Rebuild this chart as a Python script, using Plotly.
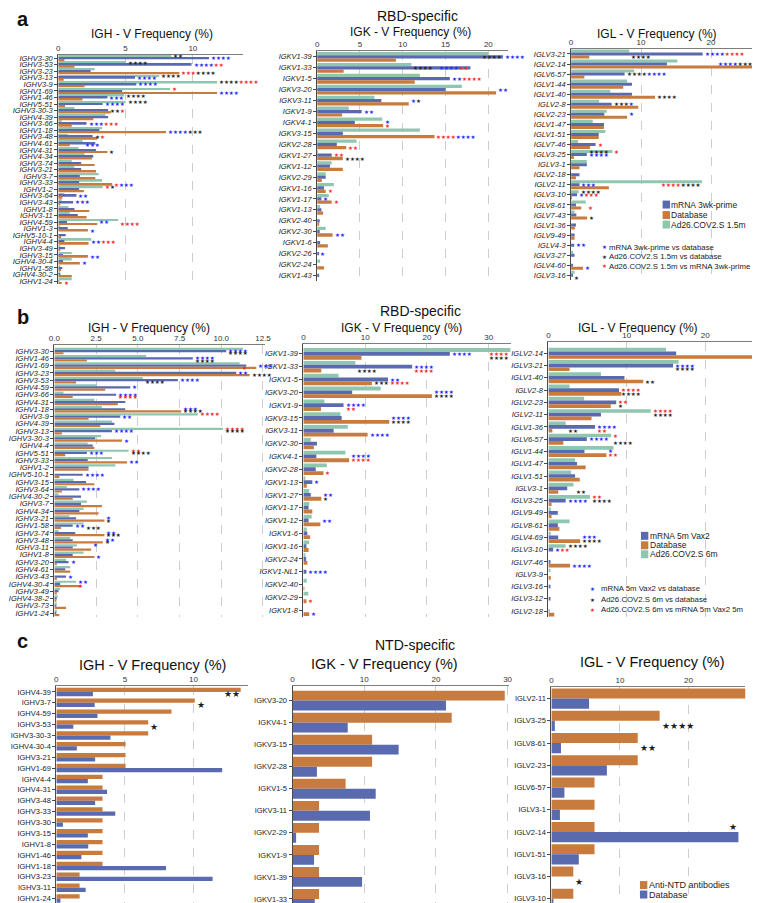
import re
import plotly.graph_objects as go

W, H = 760, 903
FONT = "Liberation Sans, Arial, Helvetica, sans-serif"
STAR_FONT = "DejaVu Sans"
GREEN = "#8fc6af"
BLUE = "#5a6aae"
ORANGE = "#c87b3e"
STAR_COL = {"b": "#2323ff", "k": "#1e1e1e", "r": "#ee2a2a"}

# ---------------- Panel a (RBD-specific, mRNA 3wk-prime / Database / Ad26 1.5m) -------------
a_igh_genes = ["IGHV3-30", "IGHV3-53", "IGHV3-23", "IGHV3-13", "IGHV3-9", "IGHV1-69", "IGHV1-46",
               "IGHV5-51", "IGHV3-30-3", "IGHV4-39", "IGHV3-66", "IGHV1-18", "IGHV3-48", "IGHV4-61",
               "IGHV4-31", "IGHV4-34", "IGHV3-74", "IGHV3-21", "IGHV3-7", "IGHV3-33", "IGHV1-2",
               "IGHV3-64", "IGHV3-43", "IGHV1-8", "IGHV3-11", "IGHV4-59", "IGHV1-3", "IGHV5-10-1",
               "IGHV4-4", "IGHV3-49", "IGHV3-15", "IGHV4-30-4", "IGHV1-58", "IGHV4-30-2", "IGHV1-24"]
a_igh_ad26 = [8.4, 5.0, 2.7, 7.5, 11.8, 8.3, 4.9, 5.0, 1.2, 3.5, 0.25, 3.25, 0.7, 1.8, 1.5, 1.95, 1.0,
              1.2, 3.0, 3.25, 3.3, 0.45, 0.25, 0.75, 0.85, 4.45, 0.1, 0.0, 2.45, 0.1, 1.0, 1.0, 0.1, 0.1, 1.0]
a_igh_mrna = [11.2, 9.9, 2.4, 5.7, 5.8, 4.75, 3.65, 3.3, 3.7, 3.7, 2.1, 3.05, 2.55, 2.75, 2.8, 2.6, 1.7,
              1.7, 1.6, 1.55, 1.55, 1.35, 1.1, 1.2, 1.45, 0.65, 0.7, 0.55, 0.45, 0.5, 0.35, 0.35, 0.3, 0.1, 0.05]
a_igh_db = [0.45, 1.2, 9.0, 0.4, 1.95, 11.8, 1.8, 0.5, 3.9, 2.6, 1.0, 8.0, 2.9, 0.85, 3.65, 2.5, 2.7,
            2.8, 2.75, 4.0, 1.9, 0.3, 0.1, 2.3, 2.1, 2.9, 2.2, 0.2, 2.25, 0.1, 2.2, 1.6, 0.2, 1.0, 0.25]
a_igh_stars = [
    ("IGHV3-30", "G", "G", "k**"), ("IGHV3-30", "B", "B", "b****"),
    ("IGHV3-53", "G", "G", "k****"), ("IGHV3-53", "B", "B", "b****r**"),
    ("IGHV3-23", "O", "O", "r***k****"),
    ("IGHV3-13", "G", "G", "k****"), ("IGHV3-13", "B", "B", "b****"),
    ("IGHV3-9", "G", "G", "k****r****"), ("IGHV3-9", "B", "B", "b****"),
    ("IGHV1-69", "G", "G", "r*"), ("IGHV1-69", "O", "O", "b****"),
    ("IGHV1-46", "B", "B", "b***"), ("IGHV1-46", "G", "G", "k****"),
    ("IGHV5-51", "B", "B", "b****"), ("IGHV5-51", "G", "G", "k****"),
    ("IGHV3-30-3", "B", "B", "k**r*"),
    ("IGHV3-66", "B", "B", "b***r***"),
    ("IGHV1-18", "O", "O", "b****k***"),
    ("IGHV3-48", "B", "B", "k*r*"),
    ("IGHV4-61", "G", "O", "b***"),
    ("IGHV4-31", "O", "O", "k*"),
    ("IGHV3-33", "O", "O", "r*b***"),
    ("IGHV1-2", "G", "G", "r*k*"),
    ("IGHV3-64", "B", "B", "b**"),
    ("IGHV3-43", "B", "B", "b***"),
    ("IGHV4-59", "O", "B", "b**"), ("IGHV4-59", "G", "O", "r****"),
    ("IGHV1-3", "O", "O", "b*"),
    ("IGHV4-4", "O", "B", "b**r***"),
    ("IGHV3-15", "O", "O", "b**"),
    ("IGHV4-30-4", "O", "O", "b*"),
    ("IGHV1-24", "O", "O", "r*"),
]

a_igk_genes = ["IGKV1-39", "IGKV1-33", "IGKV1-5", "IGKV3-20", "IGKV3-11", "IGKV1-9", "IGKV4-1",
               "IGKV3-15", "IGKV2-28", "IGKV1-27", "IGKV1-12", "IGKV2-29", "IGKV1-16", "IGKV1-17",
               "IGKV1-13", "IGKV2-40", "IGKV2-30", "IGKV1-6", "IGKV2-26", "IGKV2-24", "IGKV1-43"]
a_igk_ad26 = [20.0, 11.0, 12.0, 16.9, 6.7, 3.7, 7.6, 12.0, 4.6, 0.1, 1.7, 1.0, 1.95, 1.35, 0.35, 0.0,
              1.0, 0.0, 0.0, 0.35, 0.0]
a_igk_mrna = [21.7, 17.9, 15.5, 15.0, 7.5, 5.2, 4.4, 3.0, 2.3, 1.7, 1.5, 1.0, 0.8, 0.5, 0.5, 0.3, 0.3,
              0.35, 0.15, 0.0, 0.15]
a_igk_db = [9.2, 3.1, 11.4, 20.9, 10.7, 2.9, 7.7, 13.7, 3.4, 3.0, 3.0, 0.55, 1.0, 1.7, 0.7, 0.15, 1.8,
            1.25, 0.0, 0.8, 0.0]
a_igk_stars = [
    ("IGKV1-39", "B", "B", "k****", "in"), ("IGKV1-39", "B", "B", "b****"),
    ("IGKV1-33", "G", "B", "k****"), ("IGKV1-33", "B", "B", "b****r**", "in"),
    ("IGKV1-5", "B", "B", "b**r****"),
    ("IGKV3-20", "O", "B", "b**"),
    ("IGKV3-11", "O", "B", "b*k*"),
    ("IGKV1-9", "B", "B", "b**"),
    ("IGKV4-1", "O", "B", "b*"), ("IGKV4-1", "O", "O", "r*"),
    ("IGKV3-15", "O", "O", "r****b****"),
    ("IGKV2-28", "O", "O", "r**"),
    ("IGKV1-27", "B", "B", "r**"), ("IGKV1-27", "O", "O", "k****"),
    ("IGKV1-16", "O", "O", "r*"),
    ("IGKV1-17", "B", "B", "b*"), ("IGKV1-17", "O", "O", "r*"),
    ("IGKV2-30", "O", "O", "b**"),
    ("IGKV2-26", "B", "B", "b*"),
]

a_igl_genes = ["IGLV3-21", "IGLV2-14", "IGLV6-57", "IGLV1-44", "IGLV1-40", "IGLV2-8", "IGLV2-23",
               "IGLV1-47", "IGLV1-51", "IGLV7-46", "IGLV3-25", "IGLV3-1", "IGLV2-18", "IGLV2-11",
               "IGLV3-10", "IGLV8-61", "IGLV7-43", "IGLV1-36", "IGLV9-49", "IGLV4-3", "IGLV3-27",
               "IGLV4-60", "IGLV3-16"]
a_igl_ad26 = [8.3, 15.2, 9.0, 8.0, 5.6, 4.0, 5.1, 3.1, 4.9, 1.0, 5.9, 2.25, 0.0, 18.7, 1.1, 2.1, 0.5,
              0.0, 0.0, 0.0, 0.25, 0.0, 0.5]
a_igl_mrna = [18.8, 13.7, 7.65, 8.7, 8.7, 5.8, 4.75, 4.7, 3.95, 3.5, 2.25, 2.25, 1.2, 1.2, 0.85, 0.7,
              0.75, 0.7, 0.5, 0.45, 0.5, 0.25, 0.15]
a_igl_db = [2.6, 26.8, 1.9, 7.45, 12.0, 9.6, 8.0, 4.7, 3.95, 2.7, 0.4, 1.2, 0.7, 5.4, 0.1, 1.45, 2.3,
            0.55, 0.5, 0.0, 0.0, 1.7, 0.0]
a_igl_stars = [
    ("IGLV3-21", "B", "B", "b****r****"), ("IGLV3-21", "G", "O", "k****"),
    ("IGLV2-14", "O", "B", "b****k****", "in"),
    ("IGLV6-57", "B", "B", "k****b****"),
    ("IGLV1-40", "O", "O", "k****"),
    ("IGLV2-8", "B", "B", "k***b*"),
    ("IGLV2-23", "O", "B", "b*"),
    ("IGLV7-46", "B", "B", "r*"),
    ("IGLV3-25", "B", "B", "b****"), ("IGLV3-25", "B", "G", "k****"), ("IGLV3-25", "G", "G", "r*"),
    ("IGLV2-11", "B", "B", "b***"), ("IGLV2-11", "G", "B", "r****k****", "in"),
    ("IGLV3-10", "G", "G", "k****"), ("IGLV3-10", "B", "B", "b*r***"),
    ("IGLV8-61", "G", "O", "r*"),
    ("IGLV7-43", "O", "O", "k*"),
    ("IGLV4-3", "B", "B", "b**"),
    ("IGLV4-60", "O", "O", "b*"),
    ("IGLV3-16", "B", "O", "k*"),
]

# ---------------- Panel b (RBD-specific, mRNA 5m Vax2 / Database / Ad26 6m) -------------
b_igh_genes = ["IGHV3-30", "IGHV1-46", "IGHV1-69", "IGHV3-23", "IGHV3-53", "IGHV4-59", "IGHV3-66",
               "IGHV4-31", "IGHV1-18", "IGHV3-9", "IGHV4-39", "IGHV3-13", "IGHV3-30-3", "IGHV4-4",
               "IGHV5-51", "IGHV3-33", "IGHV1-2", "IGHV5-10-1", "IGHV3-15", "IGHV3-64", "IGHV4-30-2",
               "IGHV3-7", "IGHV4-34", "IGHV3-21", "IGHV1-58", "IGHV3-74", "IGHV3-48", "IGHV3-11",
               "IGHV1-8", "IGHV3-20", "IGHV4-61", "IGHV3-43", "IGHV4-30-4", "IGHV3-49", "IGHV4-38-2",
               "IGHV3-73", "IGHV1-24"]
b_igh_ad26 = [11.3, 5.5, 11.1, 3.65, 5.3, 2.55, 0.55, 2.4, 2.85, 8.6, 3.45, 10.1, 2.8, 2.0, 4.45, 3.45,
              3.65, 0.0, 1.15, 0.75, 0.25, 1.95, 1.75, 0.9, 1.75, 0.25, 0.95, 1.35, 1.75, 0.7, 0.95, 0.0,
              1.3, 0.35, 0.2, 0.15, 0.15]
b_igh_mrna = [10.3, 8.3, 11.5, 10.9, 7.4, 4.55, 3.7, 4.25, 4.25, 3.95, 3.6, 3.45, 2.45, 2.3, 1.95, 2.0,
              2.05, 1.7, 1.9, 1.5, 1.6, 1.6, 1.5, 1.3, 1.1, 1.25, 1.1, 1.1, 1.1, 0.85, 0.65, 0.7, 0.35,
              0.25, 0.15, 0.1, 0.1]
b_igh_db = [0.55, 1.95, 12.1, 11.7, 1.3, 3.05, 1.1, 3.8, 7.6, 2.05, 2.75, 0.45, 4.05, 2.4, 0.65, 4.35,
            2.05, 0.3, 2.4, 0.45, 1.1, 2.85, 2.65, 3.0, 0.4, 3.0, 2.9, 2.2, 2.4, 0.15, 0.95, 0.15, 1.6,
            0.15, 0.1, 0.7, 0.3]
b_igh_stars = [
    ("IGHV3-30", "B", "B", "b****"), ("IGHV3-30", "B", "O", "k****"),
    ("IGHV1-46", "B", "B", "b****"), ("IGHV1-46", "B", "O", "k****"),
    ("IGHV1-69", "O", "B", "b***"), ("IGHV1-69", "G", "O", "r*"),
    ("IGHV3-23", "B", "B", "b**"), ("IGHV3-23", "O", "O", "k****"),
    ("IGHV3-53", "G", "O", "k****"), ("IGHV3-53", "B", "B", "b****"),
    ("IGHV4-59", "B", "B", "b*"),
    ("IGHV3-66", "B", "B", "b****"), ("IGHV3-66", "B", "O", "r****"),
    ("IGHV1-18", "O", "B", "b***"), ("IGHV1-18", "O", "O", "k****"),
    ("IGHV3-9", "B", "B", "b**"), ("IGHV3-9", "G", "G", "r****"),
    ("IGHV3-13", "B", "B", "b****"), ("IGHV3-13", "G", "G", "r****"), ("IGHV3-13", "G", "B", "k****"),
    ("IGHV3-30-3", "O", "O", "b*"),
    ("IGHV5-51", "G", "G", "r**"), ("IGHV5-51", "G", "B", "k****"), ("IGHV5-51", "B", "B", "b***"),
    ("IGHV3-33", "O", "O", "b**"),
    ("IGHV5-10-1", "B", "B", "b****"),
    ("IGHV3-64", "B", "B", "b****"),
    ("IGHV3-21", "O", "B", "b*"), ("IGHV3-21", "O", "O", "k*"),
    ("IGHV1-58", "B", "B", "b**"), ("IGHV1-58", "G", "O", "k***"),
    ("IGHV3-74", "O", "B", "b**"), ("IGHV3-74", "O", "O", "k***"),
    ("IGHV3-48", "O", "B", "b**"), ("IGHV3-48", "O", "O", "k*"),
    ("IGHV3-11", "O", "G", "b*"),
    ("IGHV1-8", "O", "O", "b*"),
    ("IGHV3-20", "B", "B", "b*"),
    ("IGHV3-43", "B", "B", "b*"),
    ("IGHV4-30-4", "G", "G", "b**"), ("IGHV4-30-4", "G", "O", "r*"),
]

b_igk_genes = ["IGKV1-39", "IGKV1-33", "IGKV1-5", "IGKV3-20", "IGKV1-9", "IGKV3-15", "IGKV3-11",
               "IGKV2-30", "IGKV4-1", "IGKV2-28", "IGKV1-13", "IGKV1-27", "IGKV1-17", "IGKV1-12",
               "IGKV1-6", "IGKV1-16", "IGKV2-24", "IGKV1-NL1", "IGKV2-40", "IGKV2-29", "IGKV1-8"]
b_igk_ad26 = [33.5, 8.4, 5.7, 12.5, 3.4, 6.0, 7.2, 1.2, 6.8, 3.8, 0.3, 0.95, 0.95, 1.35, 0.55, 0.95,
              0.3, 0.0, 0.55, 0.8, 0.0]
b_igk_mrna = [23.7, 17.6, 13.7, 7.9, 6.5, 6.2, 4.9, 2.2, 2.1, 2.0, 1.45, 1.2, 0.85, 0.85, 0.65, 0.5,
              0.45, 0.5, 0.0, 0.0, 0.0]
b_igk_db = [9.4, 2.9, 11.1, 20.8, 2.85, 13.9, 10.4, 1.7, 7.4, 3.25, 0.55, 2.9, 1.45, 2.75, 1.1, 0.85,
            0.65, 0.0, 0.1, 0.5, 0.95]
b_igk_stars = [
    ("IGKV1-39", "B", "B", "b****"), ("IGKV1-39", "G", "B", "r****", "in"),
    ("IGKV1-39", "G", "O", "k****", "in"),
    ("IGKV1-33", "B", "B", "b****"), ("IGKV1-33", "B", "O", "r****"), ("IGKV1-33", "G", "O", "k****"),
    ("IGKV1-5", "B", "B", "b**"), ("IGKV1-5", "B", "O", "r****"), ("IGKV1-5", "O", "O", "k***"),
    ("IGKV3-20", "O", "B", "b****"), ("IGKV3-20", "O", "O", "k****"),
    ("IGKV1-9", "B", "B", "b****"), ("IGKV1-9", "B", "O", "r**"),
    ("IGKV3-15", "O", "B", "b****"), ("IGKV3-15", "O", "O", "k****"),
    ("IGKV3-11", "O", "O", "b****"),
    ("IGKV4-1", "O", "B", "b****"), ("IGKV4-1", "O", "O", "r****"),
    ("IGKV2-28", "O", "O", "r*"),
    ("IGKV1-13", "B", "B", "b*"),
    ("IGKV1-27", "O", "B", "b**"), ("IGKV1-27", "O", "O", "k*"),
    ("IGKV1-12", "O", "B", "b**"),
    ("IGKV1-NL1", "B", "B", "b****"),
    ("IGKV2-29", "O", "O", "r*"),
    ("IGKV1-8", "O", "O", "b*"),
]

b_igl_genes = ["IGLV2-14", "IGLV3-21", "IGLV1-40", "IGLV2-8", "IGLV2-23", "IGLV2-11", "IGLV1-36",
               "IGLV6-57", "IGLV1-44", "IGLV1-47", "IGLV1-51", "IGLV3-1", "IGLV3-25", "IGLV9-49",
               "IGLV8-61", "IGLV4-69", "IGLV3-10", "IGLV7-46", "IGLV3-9", "IGLV3-16", "IGLV3-12",
               "IGLV2-18"]
b_igl_ad26 = [15.0, 16.6, 6.7, 2.7, 4.55, 13.05, 2.2, 8.0, 8.3, 3.4, 2.9, 3.2, 5.3, 0.3, 2.7, 0.3, 2.2,
              0.0, 0.2, 0.0, 0.0, 0.0]
b_igl_mrna = [16.3, 15.9, 9.7, 9.0, 8.65, 6.7, 5.95, 4.9, 4.6, 3.65, 3.4, 2.4, 2.2, 1.2, 1.2, 1.25, 0.6,
              0.15, 0.0, 0.2, 0.15, 0.1]
b_igl_db = [27.0, 2.7, 12.1, 9.3, 7.95, 5.5, 0.5, 1.9, 7.4, 4.75, 4.0, 1.25, 0.4, 0.4, 1.4, 4.05, 0.0,
            2.75, 0.3, 0.0, 0.0, 0.75]
b_igl_stars = [
    ("IGLV3-21", "B", "B", "b****"), ("IGLV3-21", "B", "O", "k****"),
    ("IGLV1-40", "O", "O", "k**"),
    ("IGLV2-8", "B", "B", "r****"), ("IGLV2-8", "B", "O", "k****"),
    ("IGLV2-23", "B", "B", "r**"), ("IGLV2-23", "B", "O", "k*"),
    ("IGLV2-11", "G", "G", "r****"), ("IGLV2-11", "G", "B", "k****"),
    ("IGLV1-36", "B", "B", "b****"), ("IGLV1-36", "B", "O", "r**"), ("IGLV1-36", "G", "O", "k**"),
    ("IGLV6-57", "G", "G", "r*"), ("IGLV6-57", "B", "B", "b****"), ("IGLV6-57", "G", "O", "k****"),
    ("IGLV1-44", "O", "B", "b*"), ("IGLV1-44", "O", "O", "r**"),
    ("IGLV3-1", "G", "O", "k**"),
    ("IGLV3-25", "G", "G", "r**"), ("IGLV3-25", "B", "B", "b****"), ("IGLV3-25", "G", "B", "k****"),
    ("IGLV4-69", "O", "B", "b***"), ("IGLV4-69", "O", "O", "k****"),
    ("IGLV3-10", "G", "G", "k****"), ("IGLV3-10", "B", "B", "b*r**"),
    ("IGLV7-46", "O", "O", "b****"),
]

# ---------------- Panel c (NTD-specific, Anti-NTD antibodies / Database) -------------
c_igh_genes = ["IGHV4-39", "IGHV3-7", "IGHV4-59", "IGHV3-53", "IGHV3-30-3", "IGHV4-30-4", "IGHV3-21",
               "IGHV1-69", "IGHV4-4", "IGHV4-31", "IGHV3-48", "IGHV3-33", "IGHV3-30", "IGHV3-15",
               "IGHV1-8", "IGHV1-46", "IGHV1-18", "IGHV3-23", "IGHV3-11", "IGHV1-24"]
c_igh_ntd = [13.45, 10.1, 8.4, 6.7, 6.7, 5.05, 5.05, 5.05, 3.37, 3.37, 3.37, 3.37, 3.37, 3.37, 3.37,
             3.37, 3.37, 1.7, 1.7, 1.7]
c_igh_db = [2.67, 2.8, 3.0, 1.24, 3.95, 1.5, 2.83, 12.1, 2.3, 3.7, 2.83, 4.3, 0.48, 2.3, 2.33, 1.83,
            8.0, 11.4, 2.14, 0.3]
c_igh_stars = [("IGHV4-39", "O", "B", "k**", "in"), ("IGHV3-7", "O", "B", "k*"),
               ("IGHV3-53", "O", "B", "k*")]

c_igk_genes = ["IGKV3-20", "IGKV4-1", "IGKV3-15", "IGKV2-28", "IGKV1-5", "IGKV3-11", "IGKV2-29",
               "IGKV1-9", "IGKV1-39", "IGKV1-33"]
c_igk_ntd = [29.6, 22.2, 11.1, 11.1, 7.4, 3.7, 3.7, 3.7, 3.7, 3.7]
c_igk_db = [21.4, 7.7, 14.8, 3.4, 11.6, 10.8, 0.5, 3.0, 9.7, 3.1]
c_igk_stars = []

c_igl_genes = ["IGLV2-11", "IGLV3-25", "IGLV8-61", "IGLV2-23", "IGLV6-57", "IGLV3-1", "IGLV2-14",
               "IGLV1-51", "IGLV3-16", "IGLV3-10"]
c_igl_ntd = [28.4, 15.8, 12.6, 12.6, 6.3, 6.3, 6.3, 6.3, 3.2, 3.2]
c_igl_db = [5.5, 0.5, 1.4, 8.1, 1.9, 1.25, 27.3, 4.0, 0.0, 0.15]
c_igl_stars = [("IGLV2-11", "O", "B", "k***", "in"), ("IGLV3-25", "O", "B", "k****"),
               ("IGLV8-61", "O", "B", "k**"), ("IGLV2-14", "B", "O", "k*", "in"),
               ("IGLV3-16", "O", "B", "k*")]


def ser3(ad, mr, db, mr_name, ad_name):
    return [("G", ad_name, ad, GREEN), ("B", mr_name, mr, BLUE), ("O", "Database", db, ORANGE)]


def ser2(ntd, db):
    return [("O", "Anti-NTD antibodies", ntd, ORANGE), ("B", "Database", db, BLUE)]


panels = [
    dict(genes=a_igh_genes, series=ser3(a_igh_ad26, a_igh_mrna, a_igh_db, "mRNA 3wk-prime", "Ad26.COV2.S 1.5m"),
         xpx=(45, 233), ypx=(46, 276), xmax=13.75, tv=[0, 5, 10], tt=None, pad=0.5, italic=True, w=0.3,
         stars=a_igh_stars, ss=5.5, th=15),
    dict(genes=a_igk_genes, series=ser3(a_igk_ad26, a_igk_mrna, a_igk_db, "mRNA 3wk-prime", "Ad26.COV2.S 1.5m"),
         xpx=(308, 502), ypx=(42.5, 272.5), xmax=22.3, tv=[0, 5, 10, 15, 20], tt=None, pad=0.5, italic=True,
         w=0.3, stars=a_igk_stars, ss=5.5, th=15),
    dict(genes=a_igl_genes, series=ser3(a_igl_ad26, a_igl_mrna, a_igl_db, "mRNA 3wk-prime", "Ad26.COV2.S 1.5m"),
         xpx=(566, 758), ypx=(40, 272), xmax=27.0, tv=[0, 10, 20], tt=None, pad=0.5, italic=True, w=0.3,
         stars=a_igl_stars, ss=5.5, th=2),
    dict(genes=b_igh_genes, series=ser3(b_igh_ad26, b_igh_mrna, b_igh_db, "mRNA 5m Vax2", "Ad26.COV2.S 6m"),
         xpx=(41, 255), ypx=(337, 609), xmax=12.62, tv=[0, 2.5, 5, 7.5, 10, 12.5],
         tt=["0.0", "2.5", "5.0", "7.5", "10.0", "12.5"], pad=0.8, italic=True, w=0.3,
         stars=b_igh_stars, ss=5.5, th=15),
    dict(genes=b_igk_genes, series=ser3(b_igk_ad26, b_igk_mrna, b_igk_db, "mRNA 5m Vax2", "Ad26.COV2.S 6m"),
         xpx=(294, 505), ypx=(336, 609), xmax=33.6, tv=[0, 10, 20, 30], tt=None, pad=0.75, italic=True,
         w=0.3, stars=b_igk_stars, ss=5.5, th=15),
    dict(genes=b_igl_genes, series=ser3(b_igl_ad26, b_igl_mrna, b_igl_db, "mRNA 5m Vax2", "Ad26.COV2.S 6m"),
         xpx=(543, 758), ypx=(334, 609.5), xmax=27.0, tv=[0, 10, 20], tt=None, pad=0.9, italic=True, w=0.3,
         stars=b_igl_stars, ss=5.5, th=2),
    dict(genes=c_igh_genes, series=ser2(c_igh_ntd, c_igh_db), xpx=(43, 238), ypx=(679, 897), xmax=14.0,
         tv=[0, 5, 10], tt=None, pad=0.5, italic=False, w=0.39, stars=c_igh_stars, ss=9, th=3),
    dict(genes=c_igk_genes, series=ser2(c_igk_ntd, c_igk_db), xpx=(283, 503), ypx=(679, 903), xmax=30.2,
         tv=[0, 10, 20, 30], tt=None, pad=0.64, italic=False, w=0.45, stars=c_igk_stars, ss=9, th=3),
    dict(genes=c_igl_genes, series=ser2(c_igl_ntd, c_igl_db), xpx=(546, 743), ypx=(680, 903), xmax=28.3,
         tv=[0, 10, 20], tt=None, pad=0.5, italic=False, w=0.45, stars=c_igl_stars, ss=9, th=3),
]


def xp(p):
    return p / W


def yp(p):
    return 1 - p / H


fig = go.Figure()
layout = {}
annotations = []
shapes = []

for i, P in enumerate(panels, start=1):
    sfx = "" if i == 1 else str(i)
    genes = P["genes"]
    n = len(genes)
    m = len(P["series"])
    w = P["w"]
    vals = {}
    centers = {}
    for k, (key, name, v, color) in enumerate(P["series"]):
        vals[key] = dict(zip(genes, v))
        centers[key] = -m * w / 2 + (k + 0.5) * w
        fig.add_trace(go.Bar(
            x=v, y=genes, orientation="h", width=w, offset=-m * w / 2 + k * w,
            marker=dict(color=color, line=dict(width=0)), name=name, showlegend=False,
            xaxis="x" + sfx, yaxis="y" + sfx, hoverinfo="x+y+name"))
    x0, x1 = P["xpx"]
    y0, y1 = P["ypx"]
    layout["xaxis" + sfx] = dict(
        domain=[xp(x0), xp(x1)], range=[0, P["xmax"]], side="top", anchor="y" + sfx,
        showline=True, linecolor="#7d7d7d", linewidth=1, ticks="",
        tickmode="array", tickvals=P["tv"],
        ticktext=P["tt"] if P["tt"] else [str(t) for t in P["tv"]],
        tickfont=dict(size=8, color="#333", family=FONT),
        showgrid=True, gridcolor="#cdcdcd", griddash="dash", gridwidth=1, zeroline=False,
        fixedrange=True)
    layout["yaxis" + sfx] = dict(
        domain=[yp(y1), yp(y0)], type="category", categoryorder="array", categoryarray=genes,
        tickmode="array", tickvals=genes, ticktext=genes,
        range=[n - 0.5, -P["pad"]], anchor="x" + sfx, showline=True, linecolor="#4a4a4a",
        linewidth=1, ticks="outside", ticklen=3, tickcolor="#4a4a4a",
        tickfont=dict(size=7.5, color="#222", family=FONT, style="italic" if P["italic"] else "normal"),
        showgrid=False, zeroline=False, fixedrange=True)
    ppr = (y1 - y0) / (n - 0.5 + P["pad"])
    for st in P["stars"]:
        gene, anchor, row, spec = st[:4]
        align = st[4] if len(st) > 4 else "out"
        segs = re.findall(r"([bkr])(\*+)", spec)
        nst = sum(len(s) for _, s in segs)
        text = "".join(f"<span style='color:{STAR_COL[c]}'>{'★' * len(s)}</span>" for c, s in segs)
        xv = vals[anchor][gene]
        xpix = x0 + xv / P["xmax"] * (x1 - x0)
        width = nst * P["ss"] * 0.84
        right = align == "in" or (xpix + width > x1 + P["th"])
        annotations.append(dict(
            xref="x" + sfx, yref="y" + sfx, x=xv, y=gene, text=text, showarrow=False,
            xanchor="right" if right else "left", yanchor="middle", xshift=0 if right else 1,
            yshift=-centers[row] * ppr, borderpad=0,
            font=dict(size=P["ss"], family=STAR_FONT, color="#222")))


def title(txt, x, y, size, bold=False):
    annotations.append(dict(xref="paper", yref="paper", x=xp(x), y=yp(y), text=f"<b>{txt}</b>" if bold else txt,
                            showarrow=False, xanchor="center", yanchor="middle",
                            font=dict(size=size, family=FONT, color="#111")))


title("a", 9, 10, 20, bold=True)
title("RBD-specific", 410, 7, 14)
title("IGH - V Frequency (%)", 140, 25, 12)
title("IGK - V Frequency (%)", 403, 23, 12)
title("IGL - V Frequency (%)", 653, 25, 12)
title("b", 9, 309, 20, bold=True)
title("RBD-specific", 413, 303, 14)
title("IGH - V Frequency (%)", 137, 320, 12)
title("IGK - V Frequency (%)", 394, 320, 12)
title("IGL - V Frequency (%)", 634, 320, 12)
title("c", 9, 633, 20, bold=True)
title("IGH - V Frequency (%)", 141, 657, 14.5)
title("NTD-specific", 407, 637, 14)
title("IGK - V Frequency (%)", 376, 656, 14.5)
title("IGL - V Frequency (%)", 649, 654, 14.5)


def box_legend(items, sq_x, ys, size):
    for (color, label), y in zip(items, ys):
        shapes.append(dict(type="rect", xref="paper", yref="paper", x0=xp(sq_x), x1=xp(sq_x + 7.5),
                           y0=yp(y + 4), y1=yp(y - 4), fillcolor=color, line=dict(width=0)))
        annotations.append(dict(xref="paper", yref="paper", x=xp(sq_x + 8), y=yp(y), xanchor="left",
                                yanchor="middle", text=label, showarrow=False, borderpad=0,
                                font=dict(size=size, family=FONT, color="#222")))


def star_legend(items, star_x, txt_x, ys, size):
    for (c, label), y in zip(items, ys):
        annotations.append(dict(xref="paper", yref="paper", x=xp(star_x), y=yp(y), xanchor="center",
                                yanchor="middle", text="★", showarrow=False, borderpad=0,
                                font=dict(size=5.5, family=STAR_FONT, color=STAR_COL[c])))
        annotations.append(dict(xref="paper", yref="paper", x=xp(txt_x), y=yp(y), xanchor="left",
                                yanchor="middle", text=label, showarrow=False, borderpad=0,
                                font=dict(size=size, family=FONT, color="#222")))


box_legend([(BLUE, "mRNA 3wk-prime"), (ORANGE, "Database"), (GREEN, "Ad26.COV2.S 1.5m")],
           659, [196, 206.5, 216], 8.5)
star_legend([("b", "mRNA 3wk-prime vs database"), ("k", "Ad26.COV2.S 1.5m vs database"),
             ("r", "Ad26.COV2.S 1.5m vs mRNA 3wk-prime")], 600, 604, [239, 248.5, 258], 7.8)
box_legend([(BLUE, "mRNA 5m Vax2"), (ORANGE, "Database"), (GREEN, "Ad26.COV2.S 6m")],
           637, [528, 537.5, 546.5], 8.5)
star_legend([("b", "mRNA 5m Vax2 vs database"), ("k", "Ad26.COV2.S 6m vs database"),
             ("r", "Ad26.COV2.S 6m vs mRNA 5m Vax2 5m")], 588, 595, [581, 592, 602], 7.8)
box_legend([(ORANGE, "Anti-NTD antibodies"), (BLUE, "Database")], 636, [878, 887.5], 9)

fig.update_layout(
    width=W, height=H, margin=dict(l=0, r=0, t=0, b=0), paper_bgcolor="white", plot_bgcolor="white",
    barmode="overlay", showlegend=False, font=dict(family=FONT, color="#222"),
    annotations=annotations, shapes=shapes, **layout)

fig.write_html("out.html")
